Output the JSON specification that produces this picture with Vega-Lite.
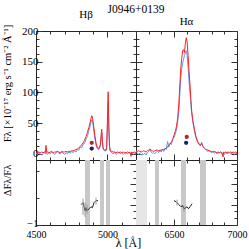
{
"$schema": "https://vega.github.io/schema/vega-lite/v6.json",
"padding": {"left": 1, "top": 4, "right": 5, "bottom": 0},
"title": {"text": "J0946+0139", "anchor": "middle", "frame": "group", "dx": 100, "fontSize": 11.5, "fontWeight": "normal", "font": "Liberation Serif", "color": "#000", "offset": -7},
"config": {
  "font": "Liberation Serif",
  "view": {"stroke": "#222", "strokeWidth": 1},
  "axis": {"domain": false, "grid": false, "tickColor": "#333", "tickWidth": 1, "labelFont": "Liberation Serif", "labelFontSize": 11, "labelColor": "#000", "titleFont": "Liberation Serif", "titleFontWeight": "normal", "titleColor": "#000", "labelOverlap": false},
  "title": {"font": "Liberation Serif", "fontWeight": "normal", "fontSize": 11, "color": "#000"}
},
"datasets": {
  "specL": [
    {"w":4500,"b":1,"r":3},{"w":4510,"b":-1,"r":2},{"w":4520,"b":2,"r":3},{"w":4530,"b":0,"r":2},{"w":4540,"b":-2,"r":3},{"w":4550,"b":1,"r":2},{"w":4560,"b":3,"r":3},{"w":4565,"b":0,"r":2},{"w":4570,"b":2,"r":14},{"w":4575,"b":1,"r":2},{"w":4580,"b":-1,"r":3},{"w":4590,"b":2,"r":2},{"w":4600,"b":0,"r":3},{"w":4610,"b":3,"r":4},{"w":4620,"b":1,"r":2},{"w":4630,"b":-1,"r":3},{"w":4640,"b":2,"r":3},{"w":4650,"b":4,"r":4},{"w":4660,"b":1,"r":3},{"w":4670,"b":0,"r":2},{"w":4680,"b":3,"r":4},{"w":4690,"b":1,"r":3},{"w":4700,"b":-1,"r":3},{"w":4710,"b":2,"r":4},{"w":4720,"b":0,"r":3},{"w":4730,"b":3,"r":4},{"w":4740,"b":1,"r":4},{"w":4750,"b":4,"r":5},{"w":4760,"b":2,"r":5},{"w":4770,"b":5,"r":6},{"w":4780,"b":3,"r":7},{"w":4790,"b":7,"r":8},{"w":4800,"b":6,"r":10},{"w":4810,"b":11,"r":12},{"w":4820,"b":10,"r":15},{"w":4830,"b":16,"r":18},{"w":4840,"b":17,"r":22},{"w":4850,"b":24,"r":28},{"w":4860,"b":28,"r":35},{"w":4870,"b":38,"r":43},{"w":4880,"b":46,"r":52},{"w":4885,"b":52,"r":58},{"w":4890,"b":55,"r":62},{"w":4895,"b":54,"r":60},{"w":4900,"b":46,"r":52},{"w":4910,"b":28,"r":34},{"w":4920,"b":14,"r":18},{"w":4930,"b":8,"r":10},{"w":4940,"b":7,"r":9},{"w":4950,"b":12,"r":14},{"w":4955,"b":25,"r":28},{"w":4960,"b":35,"r":40},{"w":4965,"b":20,"r":22},{"w":4970,"b":8,"r":9},{"w":4980,"b":5,"r":6},{"w":4990,"b":5,"r":6},{"w":4995,"b":10,"r":12},{"w":5000,"b":45,"r":55},{"w":5005,"b":85,"r":101},{"w":5010,"b":38,"r":45},{"w":5015,"b":10,"r":12},{"w":5020,"b":4,"r":5},{"w":5030,"b":2,"r":4},{"w":5040,"b":0,"r":3},{"w":5050,"b":2,"r":3},{"w":5060,"b":-1,"r":2},{"w":5070,"b":1,"r":3},{"w":5080,"b":3,"r":2},{"w":5090,"b":0,"r":3},{"w":5100,"b":2,"r":2},{"w":5110,"b":-1,"r":3},{"w":5120,"b":1,"r":2},{"w":5130,"b":3,"r":1},{"w":5140,"b":0,"r":3},{"w":5150,"b":2,"r":2},{"w":5160,"b":1,"r":2},{"w":5165,"b":0,"r":-4},{"w":5170,"b":2,"r":3},{"w":5180,"b":-1,"r":2},{"w":5190,"b":1,"r":3},{"w":5200,"b":0,"r":2}
  ],
  "specR": [
    {"w":6200,"b":4,"r":5},{"w":6210,"b":2,"r":4},{"w":6220,"b":-1,"r":5},{"w":6230,"b":1,"r":4},{"w":6240,"b":-2,"r":3},{"w":6250,"b":0,"r":4},{"w":6260,"b":-1,"r":5},{"w":6270,"b":1,"r":4},{"w":6280,"b":-2,"r":3},{"w":6290,"b":2,"r":5},{"w":6300,"b":4,"r":6},{"w":6310,"b":7,"r":8},{"w":6320,"b":3,"r":6},{"w":6330,"b":1,"r":5},{"w":6340,"b":2,"r":4},{"w":6350,"b":0,"r":5},{"w":6360,"b":3,"r":6},{"w":6370,"b":5,"r":6},{"w":6380,"b":2,"r":5},{"w":6390,"b":6,"r":6},{"w":6400,"b":3,"r":6},{"w":6410,"b":8,"r":7},{"w":6420,"b":4,"r":7},{"w":6430,"b":9,"r":8},{"w":6440,"b":7,"r":10},{"w":6450,"b":20,"r":11},{"w":6460,"b":11,"r":14},{"w":6470,"b":18,"r":16},{"w":6480,"b":15,"r":19},{"w":6490,"b":24,"r":23},{"w":6500,"b":26,"r":30},{"w":6510,"b":32,"r":36},{"w":6520,"b":38,"r":44},{"w":6530,"b":52,"r":58},{"w":6540,"b":72,"r":85},{"w":6548,"b":100,"r":115},{"w":6555,"b":125,"r":140},{"w":6562,"b":138,"r":155},{"w":6570,"b":148,"r":168},{"w":6577,"b":155,"r":170},{"w":6584,"b":160,"r":165},{"w":6591,"b":165,"r":180},{"w":6598,"b":168,"r":189},{"w":6605,"b":160,"r":182},{"w":6613,"b":140,"r":160},{"w":6620,"b":118,"r":135},{"w":6628,"b":98,"r":112},{"w":6635,"b":80,"r":88},{"w":6641,"b":66,"r":70},{"w":6650,"b":52,"r":55},{"w":6662,"b":38,"r":41},{"w":6675,"b":26,"r":28},{"w":6689,"b":18,"r":20},{"w":6700,"b":15,"r":16},{"w":6710,"b":13,"r":14},{"w":6720,"b":19,"r":17},{"w":6730,"b":12,"r":12},{"w":6740,"b":9,"r":10},{"w":6750,"b":7,"r":8},{"w":6760,"b":5,"r":7},{"w":6770,"b":4,"r":6},{"w":6780,"b":6,"r":5},{"w":6790,"b":3,"r":4},{"w":6800,"b":2,"r":4},{"w":6810,"b":4,"r":3},{"w":6820,"b":1,"r":4},{"w":6830,"b":3,"r":3},{"w":6840,"b":0,"r":2},{"w":6850,"b":2,"r":3},{"w":6860,"b":1,"r":2},{"w":6870,"b":3,"r":3},{"w":6880,"b":0,"r":2},{"w":6890,"b":2,"r":-5},{"w":6895,"b":1,"r":3},{"w":6900,"b":-1,"r":2},{"w":6910,"b":2,"r":3},{"w":6920,"b":0,"r":2},{"w":6930,"b":1,"r":3},{"w":6940,"b":3,"r":2},{"w":6950,"b":0,"r":3},{"w":6960,"b":1,"r":2},{"w":6970,"b":2,"r":3},{"w":6980,"b":-1,"r":2},{"w":6990,"b":1,"r":3},{"w":7000,"b":0,"r":2}
  ],
  "dotsL": [{"w":4890,"f":18,"c":"r"},{"w":4890,"f":8.6,"c":"b"}],
  "dotsR": [{"w":6602,"f":27.6,"c":"r"},{"w":6597,"f":18,"c":"b"}],
  "resL": [{"w":4815,"v":0},{"w":4829,"v":0.1},{"w":4843,"v":-0.3},{"w":4850,"v":-0.15},{"w":4857,"v":-0.3},{"w":4871,"v":-0.2},{"w":4885,"v":-0.1},{"w":4895,"v":-0.15},{"w":4906,"v":0.1},{"w":4920,"v":0.2},{"w":4934,"v":0.2}],
  "resR": [{"w":6501,"v":0.2},{"w":6517,"v":0.15},{"w":6525,"v":0.1},{"w":6540,"v":0},{"w":6556,"v":-0.1},{"w":6570,"v":-0.05},{"w":6580,"v":-0.2},{"w":6595,"v":-0.15},{"w":6604,"v":-0.1},{"w":6616,"v":-0.2},{"w":6628,"v":-0.1},{"w":6644,"v":0.05}],
  "errL": [{"w":4829,"lo":-0.5,"hi":0.3},{"w":4843,"lo":-0.6,"hi":0.1},{"w":4857,"lo":-0.45,"hi":0.0},{"w":4920,"lo":0.0,"hi":0.35}],
  "errR": [{"w":6525,"lo":-0.05,"hi":0.25},{"w":6580,"lo":-0.35,"hi":-0.05}],
  "bandsL": [{"a":4843,"z":4878},{"a":4948,"z":4976},{"a":4990,"z":5018}],
  "bandsR": [{"a":6350,"z":6382},{"a":6556,"z":6596},{"a":6707,"z":6754}],
  "tellR": [{"a":6200,"z":6287}]
},
"concat": [
 {
  "width": 100, "height": 129,
  "title": {"text": "Hβ", "offset": 4},
  "layer": [
   {"layer": [
     {"mark": {"type": "rule", "color": "#555", "strokeDash": [4, 3], "strokeWidth": 1},
      "encoding": {"x": {"datum": 4861, "type": "quantitative", "scale": {"domain": [4500, 5200], "nice": false, "zero": false}, "axis": {"orient": "bottom", "values": [4500,4600,4700,4800,4900,5000,5100,5200], "labels": false, "title": null, "tickSize": {"condition": {"test": "datum.value % 500 === 0", "value": -6}, "value": -3}}}}},
     {"data": {"name": "specL"}, "mark": {"type": "line", "color": "#6495ed", "strokeWidth": 1, "clip": true},
      "encoding": {"x": {"field": "w", "type": "quantitative", "scale": {"domain": [4500, 5200], "nice": false, "zero": false}, "axis": {"orient": "bottom", "values": [4500,4600,4700,4800,4900,5000,5100,5200], "labels": false, "title": null, "tickSize": {"condition": {"test": "datum.value % 500 === 0", "value": -6}, "value": -3}}},
                   "y": {"field": "b", "type": "quantitative", "scale": {"domain": [-10, 200], "nice": false, "zero": false}, "axis": {"orient": "left", "values": [0,12.5,25,37.5,50,62.5,75,87.5,100,112.5,125,137.5,150,162.5,175,187.5,200], "labelExpr": "datum.value % 50 === 0 ? datum.label : ''", "format": "d", "title": "Fλ [×10⁻¹⁷ erg s⁻¹ cm⁻² Å⁻¹]", "titleFontSize": 10.5, "titleY": 52, "titlePadding": 5.5, "minExtent": 18, "labelPadding": 4, "tickSize": {"condition": {"test": "datum.value % 50 === 0", "value": -6}, "value": -3}}}}},
     {"data": {"name": "specL"}, "mark": {"type": "line", "color": "#ff2222", "strokeWidth": 1, "clip": true},
      "encoding": {"x": {"field": "w", "type": "quantitative", "scale": {"domain": [4500, 5200], "nice": false, "zero": false}, "axis": {"orient": "bottom", "values": [4500,4600,4700,4800,4900,5000,5100,5200], "labels": false, "title": null, "tickSize": {"condition": {"test": "datum.value % 500 === 0", "value": -6}, "value": -3}}},
                   "y": {"field": "r", "type": "quantitative", "scale": {"domain": [-10, 200], "nice": false, "zero": false}, "axis": {"orient": "left", "values": [0,12.5,25,37.5,50,62.5,75,87.5,100,112.5,125,137.5,150,162.5,175,187.5,200], "labelExpr": "datum.value % 50 === 0 ? datum.label : ''", "format": "d", "title": "Fλ [×10⁻¹⁷ erg s⁻¹ cm⁻² Å⁻¹]", "titleFontSize": 10.5, "titleY": 52, "titlePadding": 5.5, "minExtent": 18, "labelPadding": 4, "tickSize": {"condition": {"test": "datum.value % 50 === 0", "value": -6}, "value": -3}}}}}
   ]},
   {"data": {"name": "dotsL"}, "mark": {"type": "circle", "size": 18, "opacity": 1},
    "encoding": {"x": {"field": "w", "type": "quantitative", "scale": {"domain": [4500, 5200], "nice": false, "zero": false}, "axis": {"orient": "top", "values": [4500,4600,4700,4800,4900,5000,5100,5200], "labels": false, "title": null, "tickSize": {"condition": {"test": "datum.value % 500 === 0", "value": -6}, "value": -3}}},
                 "y": {"field": "f", "type": "quantitative", "scale": {"domain": [-10, 200], "nice": false, "zero": false}, "axis": {"orient": "right", "values": [0,12.5,25,37.5,50,62.5,75,87.5,100,112.5,125,137.5,150,162.5,175,187.5,200], "labels": false, "title": null, "tickSize": {"condition": {"test": "datum.value % 50 === 0", "value": -6}, "value": -3}}},
                 "color": {"field": "c", "type": "nominal", "scale": {"domain": ["r", "b"], "range": ["#b02828", "#1c1c78"]}, "legend": null}}}
  ],
  "resolve": {"scale": {"x": "independent", "y": "independent"}}
 },
 {
  "width": 101, "height": 129,
  "title": {"text": "Hα", "offset": 4},
  "layer": [
   {"layer": [
     {"mark": {"type": "rule", "color": "#aaaaaa", "strokeDash": [5, 3], "strokeWidth": 2},
      "encoding": {"x": {"datum": 6563, "type": "quantitative", "scale": {"domain": [6200, 7000], "nice": false, "zero": false}, "axis": {"orient": "bottom", "values": [6200,6300,6400,6500,6600,6700,6800,6900,7000], "labels": false, "title": null, "tickSize": {"condition": {"test": "datum.value % 500 === 0", "value": -6}, "value": -3}}}}},
     {"data": {"name": "specR"}, "mark": {"type": "line", "color": "#6495ed", "strokeWidth": 1, "clip": true},
      "encoding": {"x": {"field": "w", "type": "quantitative", "scale": {"domain": [6200, 7000], "nice": false, "zero": false}, "axis": {"orient": "bottom", "values": [6200,6300,6400,6500,6600,6700,6800,6900,7000], "labels": false, "title": null, "tickSize": {"condition": {"test": "datum.value % 500 === 0", "value": -6}, "value": -3}}},
                   "y": {"field": "b", "type": "quantitative", "scale": {"domain": [-10, 200], "nice": false, "zero": false}, "axis": {"orient": "left", "values": [0,12.5,25,37.5,50,62.5,75,87.5,100,112.5,125,137.5,150,162.5,175,187.5,200], "labels": false, "title": null, "tickSize": {"condition": {"test": "datum.value % 50 === 0", "value": -6}, "value": -3}}}}},
     {"data": {"name": "specR"}, "mark": {"type": "line", "color": "#ff2222", "strokeWidth": 1, "clip": true},
      "encoding": {"x": {"field": "w", "type": "quantitative", "scale": {"domain": [6200, 7000], "nice": false, "zero": false}, "axis": {"orient": "bottom", "values": [6200,6300,6400,6500,6600,6700,6800,6900,7000], "labels": false, "title": null, "tickSize": {"condition": {"test": "datum.value % 500 === 0", "value": -6}, "value": -3}}},
                   "y": {"field": "r", "type": "quantitative", "scale": {"domain": [-10, 200], "nice": false, "zero": false}, "axis": {"orient": "left", "values": [0,12.5,25,37.5,50,62.5,75,87.5,100,112.5,125,137.5,150,162.5,175,187.5,200], "labels": false, "title": null, "tickSize": {"condition": {"test": "datum.value % 50 === 0", "value": -6}, "value": -3}}}}}
   ]},
   {"data": {"name": "dotsR"}, "mark": {"type": "circle", "size": 18, "opacity": 1},
    "encoding": {"x": {"field": "w", "type": "quantitative", "scale": {"domain": [6200, 7000], "nice": false, "zero": false}, "axis": {"orient": "top", "values": [6200,6300,6400,6500,6600,6700,6800,6900,7000], "labels": false, "title": null, "tickSize": {"condition": {"test": "datum.value % 500 === 0", "value": -6}, "value": -3}}},
                 "y": {"field": "f", "type": "quantitative", "scale": {"domain": [-10, 200], "nice": false, "zero": false}, "axis": {"orient": "right", "values": [0,12.5,25,37.5,50,62.5,75,87.5,100,112.5,125,137.5,150,162.5,175,187.5,200], "labels": false, "title": null, "tickSize": {"condition": {"test": "datum.value % 50 === 0", "value": -6}, "value": -3}}},
                 "color": {"field": "c", "type": "nominal", "scale": {"domain": ["r", "b"], "range": ["#b02828", "#1c1c78"]}, "legend": null}}}
  ],
  "resolve": {"scale": {"x": "independent", "y": "independent"}}
 },
 {
  "width": 100, "height": 65,
  "layer": [
   {"layer": [
     {"data": {"name": "bandsL"}, "mark": {"type": "rect", "color": "#c8c8c8"},
      "encoding": {"x": {"field": "a", "type": "quantitative", "scale": {"domain": [4500, 5200], "nice": false, "zero": false}, "axis": {"orient": "bottom", "values": [4500,4600,4700,4800,4900,5000,5100,5200], "labelExpr": "datum.value % 500 === 0 ? datum.label : ''", "format": "d", "labelFlush": false, "labelFontSize": 10, "title": "λ [Å]", "titleX": 92, "titleFontSize": 12, "titlePadding": -5, "labelPadding": 10, "tickSize": {"condition": {"test": "datum.value % 500 === 0", "value": -6}, "value": -3}}},
                   "x2": {"field": "z"}}},
     {"mark": {"type": "rule", "color": "#888", "strokeDash": [1, 2], "strokeWidth": 1},
      "encoding": {"y": {"datum": 0, "type": "quantitative", "scale": {"domain": [-1, 2.2], "nice": false, "zero": false}, "axis": {"orient": "left", "values": [-1,-0.6667,-0.3333,0,0.3333,0.6667,1,1.3333,1.6667,2], "labelExpr": "abs(datum.value - round(datum.value)) < 0.01 && datum.value < 1.5 ? datum.label : ''", "format": "d", "labelFontSize": 10.5, "labelOffset": {"condition": {"test": "datum.value < -0.5", "value": -2}, "value": 0}, "title": "ΔFλ/Fλ", "titleFontSize": 10.5, "titleY": 20, "titlePadding": 5.5, "minExtent": 18, "labelPadding": 4, "tickSize": {"condition": {"test": "abs(datum.value - round(datum.value)) < 0.01", "value": -6}, "value": -3}}}}},
     {"mark": {"type": "rule", "color": "#555", "strokeDash": [4, 3], "strokeWidth": 1},
      "encoding": {"x": {"datum": 4861, "type": "quantitative", "scale": {"domain": [4500, 5200], "nice": false, "zero": false}, "axis": {"orient": "bottom", "values": [4500,4600,4700,4800,4900,5000,5100,5200], "labelExpr": "datum.value % 500 === 0 ? datum.label : ''", "format": "d", "labelFlush": false, "labelFontSize": 10, "title": "λ [Å]", "titleX": 92, "titleFontSize": 12, "titlePadding": -5, "labelPadding": 10, "tickSize": {"condition": {"test": "datum.value % 500 === 0", "value": -6}, "value": -3}}}}},
     {"data": {"name": "resL"}, "mark": {"type": "line", "color": "#222", "strokeWidth": 1},
      "encoding": {"x": {"field": "w", "type": "quantitative", "scale": {"domain": [4500, 5200], "nice": false, "zero": false}, "axis": {"orient": "bottom", "values": [4500,4600,4700,4800,4900,5000,5100,5200], "labelExpr": "datum.value % 500 === 0 ? datum.label : ''", "format": "d", "labelFlush": false, "labelFontSize": 10, "title": "λ [Å]", "titleX": 92, "titleFontSize": 12, "titlePadding": -5, "labelPadding": 10, "tickSize": {"condition": {"test": "datum.value % 500 === 0", "value": -6}, "value": -3}}},
                   "y": {"field": "v", "type": "quantitative", "scale": {"domain": [-1, 2.2], "nice": false, "zero": false}, "axis": {"orient": "left", "values": [-1,-0.6667,-0.3333,0,0.3333,0.6667,1,1.3333,1.6667,2], "labelExpr": "abs(datum.value - round(datum.value)) < 0.01 && datum.value < 1.5 ? datum.label : ''", "format": "d", "labelFontSize": 10.5, "labelOffset": {"condition": {"test": "datum.value < -0.5", "value": -2}, "value": 0}, "title": "ΔFλ/Fλ", "titleFontSize": 10.5, "titleY": 20, "titlePadding": 5.5, "minExtent": 18, "labelPadding": 4, "tickSize": {"condition": {"test": "abs(datum.value - round(datum.value)) < 0.01", "value": -6}, "value": -3}}}}}
   ]},
   {"data": {"name": "errL"}, "mark": {"type": "rule", "color": "#999", "strokeWidth": 1},
    "encoding": {"x": {"field": "w", "type": "quantitative", "scale": {"domain": [4500, 5200], "nice": false, "zero": false}, "axis": {"orient": "top", "values": [4500,4600,4700,4800,4900,5000,5100,5200], "labels": false, "title": null, "tickSize": {"condition": {"test": "datum.value % 500 === 0", "value": -6}, "value": -3}}},
                 "y": {"field": "lo", "type": "quantitative", "scale": {"domain": [-1, 2.2], "nice": false, "zero": false}, "axis": {"orient": "right", "values": [-1,-0.6667,-0.3333,0,0.3333,0.6667,1,1.3333,1.6667,2], "labels": false, "title": null, "tickSize": {"condition": {"test": "abs(datum.value - round(datum.value)) < 0.01", "value": -6}, "value": -3}}},
                 "y2": {"field": "hi"}}}
  ],
  "resolve": {"scale": {"x": "independent", "y": "independent"}}
 },
 {
  "width": 101, "height": 65,
  "layer": [
   {"layer": [
     {"data": {"name": "tellR"}, "mark": {"type": "rect", "color": "#e6e6e6"},
      "encoding": {"x": {"field": "a", "type": "quantitative", "scale": {"domain": [6200, 7000], "nice": false, "zero": false}, "axis": {"orient": "bottom", "values": [6200,6300,6400,6500,6600,6700,6800,6900,7000], "labelExpr": "datum.value % 500 === 0 ? datum.label : ''", "format": "d", "labelFlush": false, "labelFontSize": 10, "title": null, "labelPadding": 10, "tickSize": {"condition": {"test": "datum.value % 500 === 0", "value": -6}, "value": -3}}},
                   "x2": {"field": "z"}}},
     {"data": {"name": "bandsR"}, "mark": {"type": "rect", "color": "#c8c8c8"},
      "encoding": {"x": {"field": "a", "type": "quantitative", "scale": {"domain": [6200, 7000], "nice": false, "zero": false}, "axis": {"orient": "bottom", "values": [6200,6300,6400,6500,6600,6700,6800,6900,7000], "labelExpr": "datum.value % 500 === 0 ? datum.label : ''", "format": "d", "labelFlush": false, "labelFontSize": 10, "title": null, "labelPadding": 10, "tickSize": {"condition": {"test": "datum.value % 500 === 0", "value": -6}, "value": -3}}},
                   "x2": {"field": "z"}}},
     {"mark": {"type": "rule", "color": "#888", "strokeDash": [1, 2], "strokeWidth": 1},
      "encoding": {"y": {"datum": 0, "type": "quantitative", "scale": {"domain": [-1, 2.2], "nice": false, "zero": false}, "axis": {"orient": "left", "values": [-1,-0.6667,-0.3333,0,0.3333,0.6667,1,1.3333,1.6667,2], "labels": false, "title": null, "tickSize": {"condition": {"test": "abs(datum.value - round(datum.value)) < 0.01", "value": -6}, "value": -3}}}}},
     {"mark": {"type": "rule", "color": "#aaaaaa", "strokeDash": [5, 3], "strokeWidth": 2},
      "encoding": {"x": {"datum": 6563, "type": "quantitative", "scale": {"domain": [6200, 7000], "nice": false, "zero": false}, "axis": {"orient": "bottom", "values": [6200,6300,6400,6500,6600,6700,6800,6900,7000], "labelExpr": "datum.value % 500 === 0 ? datum.label : ''", "format": "d", "labelFlush": false, "labelFontSize": 10, "title": null, "labelPadding": 10, "tickSize": {"condition": {"test": "datum.value % 500 === 0", "value": -6}, "value": -3}}}}},
     {"data": {"name": "resR"}, "mark": {"type": "line", "color": "#222", "strokeWidth": 1},
      "encoding": {"x": {"field": "w", "type": "quantitative", "scale": {"domain": [6200, 7000], "nice": false, "zero": false}, "axis": {"orient": "bottom", "values": [6200,6300,6400,6500,6600,6700,6800,6900,7000], "labelExpr": "datum.value % 500 === 0 ? datum.label : ''", "format": "d", "labelFlush": false, "labelFontSize": 10, "title": null, "labelPadding": 10, "tickSize": {"condition": {"test": "datum.value % 500 === 0", "value": -6}, "value": -3}}},
                   "y": {"field": "v", "type": "quantitative", "scale": {"domain": [-1, 2.2], "nice": false, "zero": false}, "axis": {"orient": "left", "values": [-1,-0.6667,-0.3333,0,0.3333,0.6667,1,1.3333,1.6667,2], "labels": false, "title": null, "tickSize": {"condition": {"test": "abs(datum.value - round(datum.value)) < 0.01", "value": -6}, "value": -3}}}}},
     {"mark": {"type": "text", "text": "⊕", "font": "DejaVu Sans", "fontSize": 11, "color": "#222"},
      "encoding": {"x": {"datum": 6255, "type": "quantitative", "scale": {"domain": [6200, 7000], "nice": false, "zero": false}, "axis": {"orient": "bottom", "values": [6200,6300,6400,6500,6600,6700,6800,6900,7000], "labelExpr": "datum.value % 500 === 0 ? datum.label : ''", "format": "d", "labelFlush": false, "labelFontSize": 10, "title": null, "labelPadding": 10, "tickSize": {"condition": {"test": "datum.value % 500 === 0", "value": -6}, "value": -3}}},
                   "y": {"datum": -0.75, "type": "quantitative", "scale": {"domain": [-1, 2.2], "nice": false, "zero": false}, "axis": {"orient": "left", "values": [-1,-0.6667,-0.3333,0,0.3333,0.6667,1,1.3333,1.6667,2], "labels": false, "title": null, "tickSize": {"condition": {"test": "abs(datum.value - round(datum.value)) < 0.01", "value": -6}, "value": -3}}}}}
   ]},
   {"data": {"name": "errR"}, "mark": {"type": "rule", "color": "#999", "strokeWidth": 1},
    "encoding": {"x": {"field": "w", "type": "quantitative", "scale": {"domain": [6200, 7000], "nice": false, "zero": false}, "axis": {"orient": "top", "values": [6200,6300,6400,6500,6600,6700,6800,6900,7000], "labels": false, "title": null, "tickSize": {"condition": {"test": "datum.value % 500 === 0", "value": -6}, "value": -3}}},
                 "y": {"field": "lo", "type": "quantitative", "scale": {"domain": [-1, 2.2], "nice": false, "zero": false}, "axis": {"orient": "right", "values": [-1,-0.6667,-0.3333,0,0.3333,0.6667,1,1.3333,1.6667,2], "labels": false, "title": null, "tickSize": {"condition": {"test": "abs(datum.value - round(datum.value)) < 0.01", "value": -6}, "value": -3}}},
                 "y2": {"field": "hi"}}}
  ],
  "resolve": {"scale": {"x": "independent", "y": "independent"}}
 }
],
"columns": 2,
"spacing": 0,
"bounds": "flush"
}
